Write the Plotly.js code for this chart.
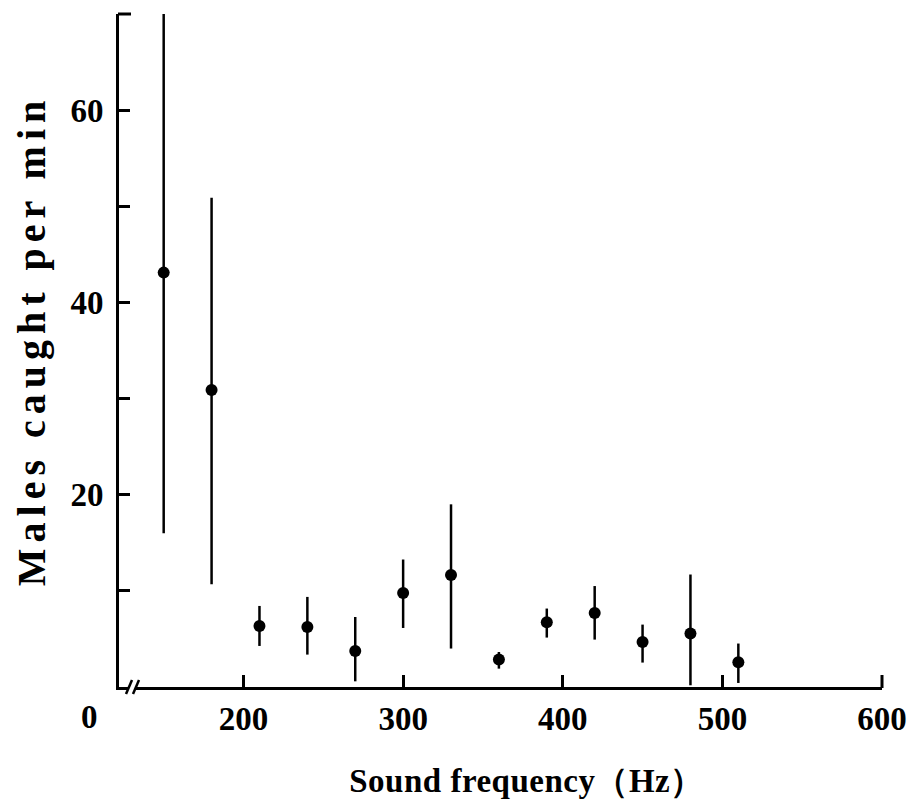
<!DOCTYPE html>
<html>
<head>
<meta charset="utf-8">
<script src="https://cdn.plot.ly/plotly-3.0.1.min.js"></script>
<style>
  html, body { margin: 0; padding: 0; background: #fff; }
  #chart { width: 911px; height: 800px; }
  .ytitle { letter-spacing: 6px; }
  .xtitle { letter-spacing: 0.5px; }
</style>
</head>
<body>
<div id="chart"></div>
<script>
// Sound frequency (Hz)
const frequency = [150, 180, 210, 240, 270, 300, 330, 360, 390, 420, 450, 480, 510];
// Mean males caught per min
const meanCaught = [43.1, 30.9, 6.35, 6.24, 3.75, 9.78, 11.65, 2.85, 6.73, 7.7, 4.68, 5.56, 2.57];
// Upper and lower ends of the error bars
const upperBound = [70, 50.9, 8.43, 9.37, 7.28, 13.26, 19.0, 3.64, 8.16, 10.5, 6.49, 11.7, 4.52];
const lowerBound = [16.0, 10.7, 4.27, 3.37, 0.59, 6.14, 4.0, 1.91, 5.14, 4.93, 2.54, 0.18, 0.42];
// Tick labels
const xTickVals = [200, 300, 400, 500, 600];
const xTickText = ['200', '300', '400', '500', '600'];
const yTickVals = [10, 20, 30, 40, 50, 60, 70];
const yTickText = ['', '20', '', '40', '', '60', ''];

const errPlus = meanCaught.map((m, i) => upperBound[i] - m);
const errMinus = meanCaught.map((m, i) => m - lowerBound[i]);

const serif = 'Liberation Serif, Times New Roman, serif';

const trace = {
  type: 'scatter',
  mode: 'markers',
  x: frequency,
  y: meanCaught,
  marker: { color: '#000', size: 12 },
  error_y: {
    type: 'data', symmetric: false,
    array: errPlus, arrayminus: errMinus,
    color: '#000', thickness: 2.5, width: 0
  },
  showlegend: false,
  hoverinfo: 'x+y'
};

// decoration positions in paper coordinates (plot area 763 x 673 px)
const W = 763, H = 673;
function px(p) { return (p - 119) / W; }
function py(p) { return (687 - p) / H; }

const layout = {
  width: 911, height: 800,
  margin: { l: 119, r: 29, t: 14, b: 113 },
  paper_bgcolor: '#fff', plot_bgcolor: '#fff',
  font: { family: serif, color: '#000', size: 33 },
  xaxis: {
    range: [122, 600],
    showgrid: false, zeroline: false,
    showline: true, linecolor: '#000', linewidth: 3,
    ticks: 'inside', ticklen: 12, tickwidth: 3, tickcolor: '#000',
    tickmode: 'array', tickvals: xTickVals, ticktext: xTickText,
    tickfont: { family: serif, size: 33, weight: 'bold' },
    ticklabelstandoff: 0,
    title: { text: 'Sound frequency（Hz）', font: { family: serif, size: 33, weight: 'bold' }, standoff: 34 },
    automargin: false
  },
  yaxis: {
    range: [0, 70],
    showgrid: false, zeroline: false,
    showline: true, linecolor: '#000', linewidth: 3,
    ticks: 'inside', ticklen: 11, tickwidth: 3, tickcolor: '#000',
    tickmode: 'array', tickvals: yTickVals, ticktext: yTickText,
    tickfont: { family: serif, size: 33, weight: 'bold' },
    ticklabelstandoff: 6,
    title: { text: 'Males caught per min', font: { family: serif, size: 40, weight: 'bold' }, standoff: 13 },
    automargin: false
  },
  shapes: [
    // end ticks at 600 Hz and at the top of the y axis
    { type: 'line', xref: 'paper', yref: 'paper', x0: 1, x1: 1, y0: py(688), y1: py(675),
      line: { color: '#000', width: 3 } },
    { type: 'line', xref: 'paper', yref: 'paper', x0: px(118), x1: px(131), y0: 1, y1: 1,
      line: { color: '#000', width: 3 } },
    // axis break "//"
    { type: 'rect', xref: 'paper', yref: 'paper', x0: px(129), x1: px(136), y0: py(684), y1: py(690),
      fillcolor: '#fff', line: { width: 0 } },
    { type: 'line', xref: 'paper', yref: 'paper', x0: px(126), y0: py(694), x1: px(132), y1: py(680),
      line: { color: '#000', width: 2.5 } },
    { type: 'line', xref: 'paper', yref: 'paper', x0: px(133), y0: py(694), x1: px(139), y1: py(680),
      line: { color: '#000', width: 2.5 } }
  ],
  annotations: [
    { text: '0', xref: 'paper', yref: 'paper', x: px(89), y: py(717), showarrow: false,
      xanchor: 'center', yanchor: 'middle', font: { family: serif, size: 33, weight: 'bold' } }
  ]
};

function nudge(sel, dx, dy) {
  const el = document.querySelector(sel);
  if (!el) return;
  const t = el.getAttribute('transform') || '';
  el.setAttribute('transform', 'translate(' + dx + ',' + dy + ') ' + t);
}

Plotly.newPlot('chart', [trace], layout, { displayModeBar: false, staticPlot: true }).then(() => {
  nudge('.xtitle', 26, 0);
  nudge('.ytitle', 0, -10);
});
</script>
</body>
</html>
